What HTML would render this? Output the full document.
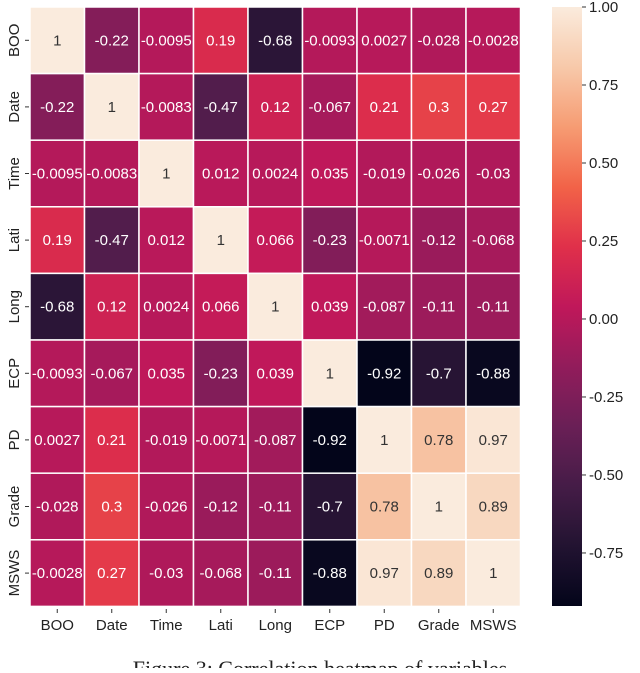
<!DOCTYPE html>
<html><head><meta charset="utf-8"><style>
body{margin:0;background:#fff;width:640px;height:668px;overflow:hidden;font-family:"Liberation Sans","DejaVu Sans",sans-serif}
</style></head><body>
<svg id="chart" width="640" height="668">
<defs><linearGradient id="cg" x1="0" y1="1" x2="0" y2="0"></linearGradient></defs>
<g id="cells"></g><g id="labels"></g><g id="cbar"></g>
<text x="320" y="676" text-anchor="middle" font-family="Liberation Serif, serif" font-size="22" fill="#222">Figure 3: Correlation heatmap of variables</text>
</svg>
<script>
const categories=["BOO","Date","Time","Lati","Long","ECP","PD","Grade","MSWS"];
const row0=[1,-0.22,-0.0095,0.19,-0.68,-0.0093,0.0027,-0.028,-0.0028];
const row1=[-0.22,1,-0.0083,-0.47,0.12,-0.067,0.21,0.3,0.27];
const row2=[-0.0095,-0.0083,1,0.012,0.0024,0.035,-0.019,-0.026,-0.03];
const row3=[0.19,-0.47,0.012,1,0.066,-0.23,-0.0071,-0.12,-0.068];
const row4=[-0.68,0.12,0.0024,0.066,1,0.039,-0.087,-0.11,-0.11];
const row5=[-0.0093,-0.067,0.035,-0.23,0.039,1,-0.92,-0.7,-0.88];
const row6=[0.0027,0.21,-0.019,-0.0071,-0.087,-0.92,1,0.78,0.97];
const row7=[-0.028,0.3,-0.026,-0.12,-0.11,-0.7,0.78,1,0.89];
const row8=[-0.0028,0.27,-0.03,-0.068,-0.11,-0.88,0.97,0.89,1];
const rows=[row0,row1,row2,row3,row4,row5,row6,row7,row8];
const cbTicks=[1.00,0.75,0.50,0.25,0.00,-0.25,-0.50,-0.75];
const vmin=-0.92,vmax=1;
const stops=[[0,"#03051a"],[0.1,"#221331"],[0.2,"#451c47"],[0.3,"#6a1f56"],[0.4,"#921c5b"],[0.5,"#c0185a"],[0.6,"#e0304a"],[0.7,"#f26348"],[0.8,"#f69c73"],[0.9,"#f7c9aa"],[1,"#faebdd"]];
function hex(h){return [1,3,5].map(i=>parseInt(h.substr(i,2),16));}
function cmap(t){t=Math.max(0,Math.min(1,t));for(let i=1;i<stops.length;i++){if(t<=stops[i][0]){const a=stops[i-1],b=stops[i];const f=(t-a[0])/(b[0]-a[0]);const ca=hex(a[1]),cb=hex(b[1]);return "rgb("+ca.map((v,k)=>Math.round(v+(cb[k]-v)*f)).join(",")+")";}}return stops[stops.length-1][1];}
const norm=v=>(v-vmin)/(vmax-vmin);
const X0=30,Y0=7,CW=54.5,CH=66.6;
const xPos=i=>X0+i*CW, yPos=j=>Y0+j*CH;
const NS="http://www.w3.org/2000/svg";
function el(t,a,p){const e=document.createElementNS(NS,t);for(const k in a)e.setAttribute(k,a[k]);p.appendChild(e);return e;}
const cells=document.getElementById("cells"),labels=document.getElementById("labels"),cbar=document.getElementById("cbar");
rows.forEach((r,j)=>r.forEach((v,i)=>{
 const c=el("rect",{x:xPos(i),y:yPos(j),width:CW,height:CH,fill:cmap(norm(v)),stroke:"#fff","stroke-width":1.5},cells);
 
 
 const t=el("text",{x:xPos(i)+CW/2,y:yPos(j)+CH/2+5,"text-anchor":"middle","font-size":15,fill:norm(v)>0.8?"#333":"#fff"},cells);
 t.textContent=String(v);
 
 
}));
categories.forEach((c,i)=>{
 const t=el("text",{x:xPos(i)+CW/2,y:630,"text-anchor":"middle","font-size":15,fill:"#222"},labels);t.textContent=c;
 
 
 el("line",{x1:xPos(i)+CW/2,x2:xPos(i)+CW/2,y1:609,y2:613,stroke:"#333"},labels);
 const cy=yPos(i)+CH/2;
 const y=el("text",{x:0,y:0,"text-anchor":"middle","font-size":15,fill:"#222",transform:"translate(19,"+cy+") rotate(-90)"},labels);y.textContent=c;
 
 
 el("line",{x1:25,x2:29,y1:cy,y2:cy,stroke:"#333"},labels);
});
const g=document.getElementById("cg");
for(let k=0;k<=20;k++){el("stop",{offset:k/20,"stop-color":cmap(k/20)},g);}
const CB0=7,CB1=606,cbY=v=>CB1-(v-vmin)/(vmax-vmin)*(CB1-CB0);
const cb=el("rect",{x:552,y:CB0,width:30,height:CB1-CB0,fill:"url(#cg)"},cbar);


cbTicks.forEach(v=>{
 el("line",{x1:582,x2:586,y1:cbY(v),y2:cbY(v),stroke:"#333"},cbar);
 const t=el("text",{x:589,y:cbY(v)+5,"font-size":15,fill:"#222"},cbar);t.textContent=v.toFixed(2);
 
 
});
</script>
</body></html>
